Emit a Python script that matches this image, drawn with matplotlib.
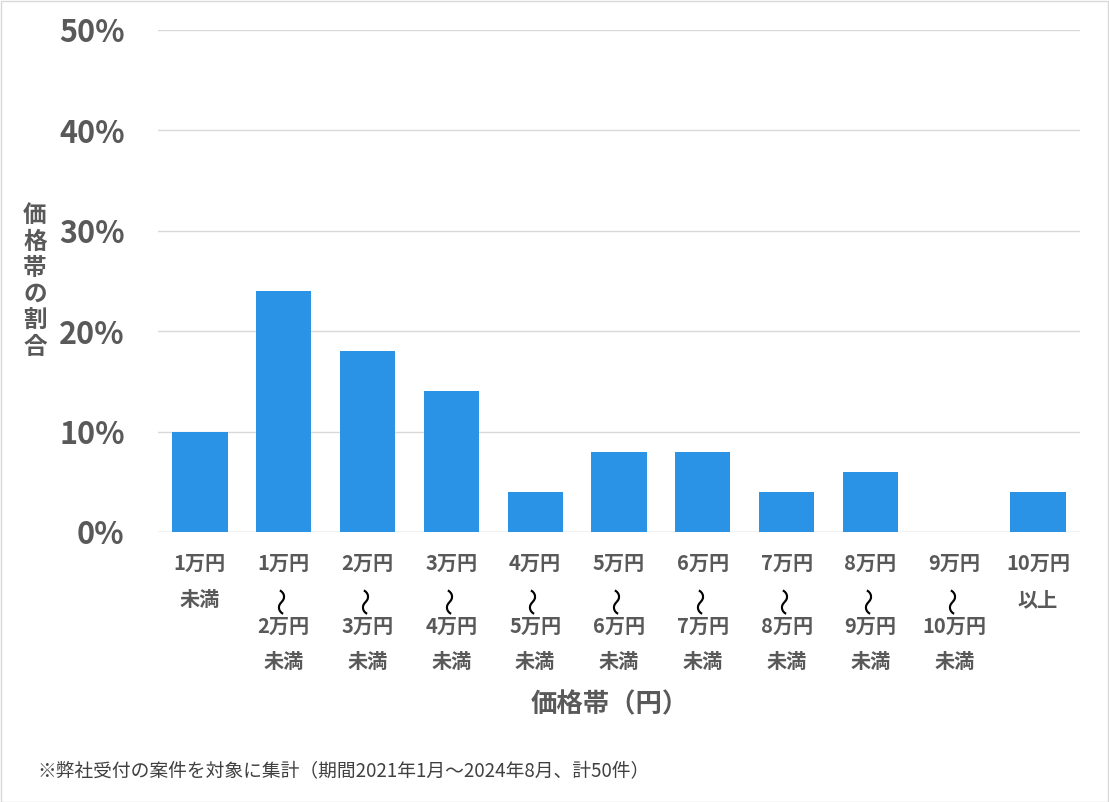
import matplotlib
matplotlib.use("Agg")
import matplotlib.pyplot as plt
from matplotlib.transforms import offset_copy
from matplotlib.patches import Rectangle

plt.rcParams['font.family'] = ['Noto Sans CJK JP', 'DejaVu Sans']

categories = ["1万円未満", "1万円～2万円未満", "2万円～3万円未満", "3万円～4万円未満",
              "4万円～5万円未満", "5万円～6万円未満", "6万円～7万円未満", "7万円～8万円未満",
              "8万円～9万円未満", "9万円～10万円未満", "10万円以上"]
label_top = ["1万円", "1万円", "2万円", "3万円", "4万円", "5万円", "6万円", "7万円", "8万円", "9万円", "10万円"]
label_bottom = [None, "2万円", "3万円", "4万円", "5万円", "6万円", "7万円", "8万円", "9万円", "10万円", None]
label_second = ["未満", None, None, None, None, None, None, None, None, None, "以上"]
values = [10, 24, 18, 14, 4, 8, 8, 4, 6, 0, 4]
yticks = [0, 10, 20, 30, 40, 50]
ytick_labels = ["0%", "10%", "20%", "30%", "40%", "50%"]

W, H = 1109, 802
fig = plt.figure(figsize=(W / 100, H / 100), dpi=100)
ax = fig.add_axes([158 / W, 1 - 532 / H, (1080 - 158) / W, (532 - 30) / H])

text_col = "#595959"
ax.bar(range(len(values)), values, width=0.66, color="#2A93E6", zorder=3)
ax.set_xlim(-0.5, len(values) - 0.5)
ax.set_ylim(0, 50)
ax.set_yticks(yticks)
ax.set_yticklabels(ytick_labels, fontsize=22, fontweight="bold", color=text_col)
ax.yaxis.grid(True, color="#D9D9D9", linewidth=1, zorder=0)
ax.tick_params(axis="y", length=0, pad=24)
ax.tick_params(axis="x", length=0)
ax.set_xticks([])
for s in ax.spines.values():
    s.set_visible(False)
ax.axhline(0, color="#D9D9D9", linewidth=1, zorder=1)

xtr = ax.get_xaxis_transform()


def put(i, dy_px, txt, **kw):
    tr = offset_copy(xtr, fig=fig, x=0, y=-dy_px * 72 / 100, units="points")
    ax.text(i, 0, txt, transform=tr, ha="center", va="center", clip_on=False, **kw)


for i in range(len(values)):
    put(i, 563 - 532, label_top[i], fontsize=14.5, fontweight="bold", color=text_col)
    if label_second[i]:
        put(i, 600 - 532, label_second[i], fontsize=14.5, fontweight="bold", color=text_col)
    if label_bottom[i]:
        put(i, 600 - 532, "～", fontsize=20, color="black", rotation=90)
        put(i, 626 - 532, label_bottom[i], fontsize=14.5, fontweight="bold", color=text_col)
        put(i, 662 - 532, "未満", fontsize=14.5, fontweight="bold", color=text_col)

fig.text(610 / W, 1 - 705 / H, "価格帯（円）", ha="center", va="center",
         fontsize=19, fontweight="bold", color=text_col)
fig.text(35 / W, 1 - 281 / H, "\n".join("価格帯の割合"), ha="center", va="center",
         fontsize=17, fontweight="bold", color=text_col, linespacing=1.12)
fig.text(37 / W, 1 - 771 / H, "※弊社受付の案件を対象に集計（期間2021年1月～2024年8月、計50件）",
         ha="left", va="center", fontsize=13.5, color="#404040")

fig.patches.append(Rectangle((0.5 / W, 0.5 / H), 1 - 1.5 / W, 1 - 1.5 / H,
                             transform=fig.transFigure, fill=False,
                             edgecolor="#D9D9D9", linewidth=1))

fig.savefig("out.png", dpi=100, facecolor="white")
